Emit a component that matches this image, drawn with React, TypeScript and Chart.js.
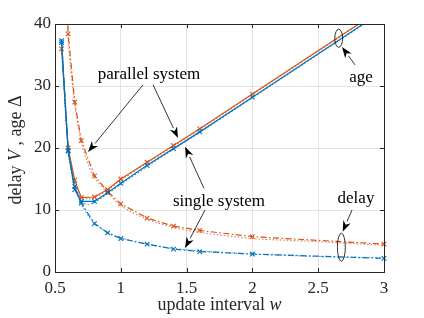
import React, { useEffect, useRef } from "react";
import { Chart, registerables } from "chart.js";
Chart.register(...registerables);

// ---- data ----
const W_SIM = [0.55, 0.6, 0.65, 0.7, 0.8, 0.9, 1.0, 1.2, 1.4, 1.6, 2.0, 3.0];
const AGE_PARALLEL = [36.0, 20.0, 14.8, 12.0, 12.1, 13.3, 15.0, 17.7, 20.4, 23.1, 28.7, 42.7];
const AGE_SINGLE = [37.0, 19.5, 13.3, 11.4, 11.4, 12.8, 14.3, 17.2, 19.9, 22.6, 28.2, 42.2];
const DELAY_PARALLEL = [70.0, 38.4, 27.4, 21.2, 15.5, 13.0, 11.0, 8.7, 7.4, 6.7, 5.7, 4.5];
const DELAY_SINGLE = [37.3, 19.6, 13.8, 11.1, 7.8, 6.3, 5.4, 4.5, 3.7, 3.3, 2.9, 2.2];

const W_THEORY = [0.55, 0.6, 0.65, 0.7, 0.75, 0.8, 0.9, 1.0, 1.2, 1.4, 1.6, 2.0, 2.5, 3.0];
const AGE_PARALLEL_TH = [37.0, 20.5, 14.5, 12.2, 11.8, 12.0, 13.2, 14.8, 17.6, 20.3, 23.0, 28.6, 35.6, 42.6];
const AGE_SINGLE_TH = [37.5, 19.8, 13.6, 11.3, 10.9, 11.2, 12.6, 14.1, 17.0, 19.8, 22.5, 28.1, 35.1, 42.1];
const DELAY_PARALLEL_TH = [70.0, 38.0, 27.0, 21.0, 17.5, 15.2, 12.8, 10.7, 8.5, 7.2, 6.4, 5.4, 4.9, 4.3];
const DELAY_SINGLE_TH = [37.5, 19.8, 13.9, 11.0, 9.2, 7.9, 6.4, 5.5, 4.5, 3.8, 3.4, 2.9, 2.5, 2.3];

const X_TICKS = [0.5, 1, 1.5, 2, 2.5, 3];
const Y_TICKS = [0, 10, 20, 30, 40];

// annotation anchors in data units: [x, y]
const TEXT_LABELS: { text: string; at: [number, number] }[] = [
  { text: "parallel system", at: [1.214, 31.8] },
  { text: "single system", at: [1.746, 11.3] },
  { text: "age", at: [2.825, 31.4] },
  { text: "delay", at: [2.787, 11.8] },
];
const ARROWS: [number, number, number, number][] = [
  [1.169, 30.2, 0.751, 19.35],
  [1.245, 30.2, 1.435, 21.6],
  [1.632, 13.5, 1.488, 20.2],
  [1.64, 10.0, 1.488, 3.87],
  [2.78, 33.4, 2.681, 36.3],
  [2.757, 10.0, 2.686, 6.5],
];
const ELLIPSES: [number, number, number, number][] = [
  [2.656, 37.7, 0.03, 1.45],
  [2.676, 4.0, 0.03, 2.26],
];

const BLUE = "#0072BD";
const ORANGE = "#D95319";
const INK = "#262626";
const FONT = "'Liberation Serif', 'Times New Roman', serif";

const pts = (xs: number[], ys: number[]) => xs.map((x, i) => ({ x, y: ys[i] }));

function simSet(xs: number[], ys: number[], color: string, dash: number[]) {
  return {
    data: pts(xs, ys),
    borderColor: color,
    backgroundColor: color,
    borderWidth: 1.2,
    borderDash: dash,
    pointStyle: "crossRot",
    pointRadius: 3.2,
    pointBorderWidth: 1.1,
    pointBorderColor: color,
    tension: 0,
    clip: { left: 6, right: 6, top: 0, bottom: 6 },
  };
}
function thSet(xs: number[], ys: number[], color: string) {
  return {
    data: pts(xs, ys),
    borderColor: color + "bb",
    borderWidth: 1.1,
    borderDash: [1.5, 2],
    pointRadius: 0,
    tension: 0.3,
    clip: { left: 6, right: 6, top: 0, bottom: 6 },
  };
}

function drawMixed(ctx: CanvasRenderingContext2D, parts: [string, boolean][], cx: number, cy: number, size: number) {
  const fontOf = (it: boolean) => `${it ? "italic " : ""}${size}px ${FONT}`;
  let total = 0;
  parts.forEach(([t, it]) => {
    ctx.font = fontOf(it);
    total += ctx.measureText(t).width;
  });
  let x = cx - total / 2;
  ctx.textAlign = "left";
  ctx.textBaseline = "middle";
  parts.forEach(([t, it]) => {
    ctx.font = fontOf(it);
    ctx.fillText(t, x, cy);
    x += ctx.measureText(t).width;
  });
}

const deco = {
  id: "deco",
  afterDraw(chart: any) {
    const { ctx, chartArea: a, scales } = chart;
    const xs = scales.x;
    const ys = scales.y;
    const X = (v: number) => xs.getPixelForValue(v);
    const Y = (v: number) => ys.getPixelForValue(v);
    ctx.save();
    ctx.strokeStyle = INK;
    ctx.fillStyle = INK;
    ctx.lineWidth = 1;
    // inward ticks
    ctx.beginPath();
    X_TICKS.forEach((v) => {
      const px = Math.round(X(v)) + 0.5;
      ctx.moveTo(px, a.bottom);
      ctx.lineTo(px, a.bottom - 4);
      ctx.moveTo(px, a.top);
      ctx.lineTo(px, a.top + 4);
    });
    Y_TICKS.forEach((v) => {
      const py = Math.round(Y(v)) + 0.5;
      ctx.moveTo(a.left, py);
      ctx.lineTo(a.left + 4, py);
      ctx.moveTo(a.right, py);
      ctx.lineTo(a.right - 4, py);
    });
    ctx.stroke();
    // box
    ctx.strokeRect(Math.round(a.left) + 0.5, Math.round(a.top) + 0.5, Math.round(a.right - a.left), Math.round(a.bottom - a.top));

    // axis titles
    drawMixed(ctx, [["update interval ", false], ["w", true]], (a.left + a.right) / 2, a.bottom + 33, 18);
    ctx.save();
    ctx.translate(16, (a.top + a.bottom) / 2 + 2);
    ctx.rotate(-Math.PI / 2);
    drawMixed(ctx, [["delay ", false], ["V", true], [" , age \u0394", false]], 0, 0, 18);
    ctx.restore();

    // text annotations
    ctx.fillStyle = "#000";
    TEXT_LABELS.forEach((l) => {
      ctx.font = `17px ${FONT}`;
      ctx.textAlign = "center";
      ctx.textBaseline = "middle";
      ctx.fillText(l.text, X(l.at[0]), Y(l.at[1]));
    });
    // arrows
    ctx.strokeStyle = "#000";
    ctx.fillStyle = "#000";
    ctx.lineWidth = 0.8;
    ARROWS.forEach(([x0, y0, x1, y1]) => {
      const sx = X(x0), sy = Y(y0), ex = X(x1), ey = Y(y1);
      const ang = Math.atan2(ey - sy, ex - sx);
      const L = 11, Wd = 4;
      const bx = ex - L * Math.cos(ang), by = ey - L * Math.sin(ang);
      ctx.beginPath();
      ctx.moveTo(sx, sy);
      ctx.lineTo(bx, by);
      ctx.stroke();
      const nx = -Math.sin(ang), ny = Math.cos(ang);
      const mx = ex - 0.7 * L * Math.cos(ang), my = ey - 0.7 * L * Math.sin(ang);
      ctx.beginPath();
      ctx.moveTo(ex, ey);
      ctx.lineTo(bx + nx * Wd, by + ny * Wd);
      ctx.lineTo(mx, my);
      ctx.lineTo(bx - nx * Wd, by - ny * Wd);
      ctx.closePath();
      ctx.fill();
    });
    // ellipses
    ctx.lineWidth = 0.8;
    ELLIPSES.forEach(([cx, cy, rx, ry]) => {
      const px = X(cx), py = Y(cy);
      const prx = Math.abs(X(cx + rx) - px), pry = Math.abs(Y(cy + ry) - py);
      ctx.beginPath();
      ctx.ellipse(px, py, prx, pry, 0, 0, Math.PI * 2);
      ctx.stroke();
    });
    ctx.restore();
  },
};

export default function App() {
  const ref = useRef<HTMLCanvasElement | null>(null);
  useEffect(() => {
    document.body.style.margin = "0";
    const canvas = ref.current;
    if (!canvas) return;
    const chart = new Chart(canvas, {
      type: "line",
      data: {
        datasets: [
          thSet(W_THEORY, DELAY_SINGLE_TH, BLUE),
          simSet(W_SIM, DELAY_SINGLE, BLUE, [6, 2.5, 1.5, 2.5]),
          thSet(W_THEORY, AGE_SINGLE_TH, BLUE),
          simSet(W_SIM, AGE_SINGLE, BLUE, []),
          thSet(W_THEORY, DELAY_PARALLEL_TH, ORANGE),
          simSet(W_SIM, DELAY_PARALLEL, ORANGE, [6, 2.5, 1.5, 2.5]),
          thSet(W_THEORY, AGE_PARALLEL_TH, ORANGE),
          simSet(W_SIM, AGE_PARALLEL, ORANGE, []),
        ] as any,
      },
      options: {
        animation: false,
        responsive: false,
        devicePixelRatio: 1,
        layout: { padding: { left: 0, right: 40, top: 24, bottom: 0 } },
        plugins: { legend: { display: false }, tooltip: { enabled: false } },
        scales: {
          x: {
            type: "linear",
            min: 0.5,
            max: 3,
            afterFit: (s: any) => { s.height = 46; },
            afterBuildTicks: (s: any) => { s.ticks = X_TICKS.map((v) => ({ value: v })); },
            ticks: {
              color: INK,
              font: { family: FONT, size: 17 },
              padding: 6,
              maxRotation: 0,
              callback: (v: any) => String(v),
            },
            grid: { color: "#e3e3e3", drawTicks: false, lineWidth: 1 },
            border: { display: false },
          },
          y: {
            type: "linear",
            min: 0,
            max: 40,
            afterFit: (s: any) => { s.width = 55; },
            afterBuildTicks: (s: any) => { s.ticks = Y_TICKS.map((v) => ({ value: v })); },
            ticks: {
              color: INK,
              font: { family: FONT, size: 17 },
              padding: 4,
              callback: (v: any) => String(v),
            },
            grid: { color: "#e3e3e3", drawTicks: false, lineWidth: 1 },
            border: { display: false },
          },
        },
      } as any,
      plugins: [deco],
    });
    return () => chart.destroy();
  }, []);
  return (
    <div style={{ width: 424, height: 318, background: "#fff" }}>
      <canvas ref={ref} width={424} height={318} />
    </div>
  );
}
